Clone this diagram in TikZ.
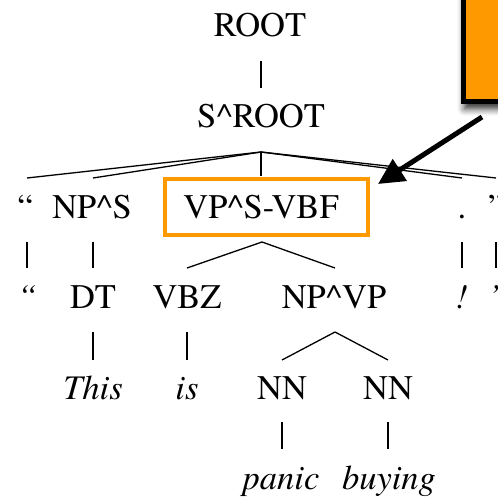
\documentclass[tikz,border=0pt]{standalone}
\usepackage{fontspec}
\newfontfamily\treefont{texgyretermes}[Extension=.otf, UprightFont=*-regular, ItalicFont=*-italic]
\usetikzlibrary{calc,arrows.meta,shadows.blur}
\definecolor{hlorange}{RGB}{255,153,0}
\begin{document}
\begin{tikzpicture}[x=1bp,y=-1bp,
  lab/.style={inner sep=0pt, anchor=base, font=\treefont\fontsize{34.5bp}{40bp}\selectfont},
  word/.style={inner sep=0pt, anchor=base, font=\treefont\fontsize{34.5bp}{40bp}\selectfont\itshape},
  edge/.style={line width=1.3bp, black},
  hlbox/.style={draw=hlorange, line width=4bp, inner sep=0pt},
  callbox/.style={fill=hlorange, draw=black, line width=5bp, inner sep=0pt,
    blur shadow={shadow xshift=1bp, shadow yshift=-7bp, shadow blur radius=7bp, shadow opacity=85}},
  pointer/.style={-{Triangle[length=26bp,width=25bp]}, line width=5bp, black}]
\useasboundingbox (0,0) rectangle (498,499);

% callout box in the corner
\node[callbox, minimum width=66.5bp, minimum height=121.5bp] (callout) at (496.75,40.75) {};

% labels, level by level
\node[lab] (root) at (260,37) {ROOT};
\node[lab] (sroot) at (261,128) {S\textasciicircum ROOT};

\node[lab] (oq1) at (25,218) {“};
\node[lab] (np) at (92,218) {NP\textasciicircum S};
\node[lab] (vp) at (261,218) {VP\textasciicircum S-VBF};
\node[lab] (dot) at (462,218) {.};
\node[lab] (cq) at (496,218) {”};

\node[word] (oq2) at (27,308) {“};
\node[lab] (dt) at (93,308) {DT};
\node[lab] (vbz) at (187,308) {VBZ};
\node[lab] (npvp) at (334,308) {NP\textasciicircum VP};
\node[word] (excl) at (462,308) {!};
\node[word] (sq) at (494,308) {’};

\node[word] (this) at (93,399) {This};
\node[word] (is) at (187,399) {is};
\node[lab] (nn1) at (282,399) {NN};
\node[lab] (nn2) at (388,399) {NN};

\node[word] (panic) at (281,489) {panic};
\node[word] (buying) at (389,489) {buying};

% highlight around the verb phrase
\node[hlbox, minimum width=203bp, minimum height=56bp] (vpbox) at (266.5,207) {};

% tree edges
\draw[edge] ($(sroot.base |- root.base)+(0,24)$) -- ($(sroot.base)+(0,-40)$);

\coordinate (sapex) at ($(sroot.base)+(0,24)$);
\draw[edge] (sapex) -- ($(oq1.base)+(2,-40)$);
\draw[edge] (sapex) -- ($(np.base)+(1,-40)$);
\draw[edge] (sapex) -- ($(sapex |- vpbox.north)+(0,-1)$);
\draw[edge] (sapex) -- ($(dot.base)+(0,-40)$);
\draw[edge] (sapex) -- ($(cq.base)+(0,-40)$);

\draw[edge] ($(oq1.base)+(2,24)$) -- ($(oq1.base)+(2,50)$);
\draw[edge] ($(dt.base |- np.base)+(0,24)$) -- ($(dt.base)+(0,-40)$);
\draw[edge] ($(dot.base)+(0,24)$) -- ($(dot.base)+(0,50)$);
\draw[edge] ($(cq.base)+(0,24)$) -- ($(cq.base)+(0,50)$);

\coordinate (vapex) at ($(vp.base)+(1,24)$);
\draw[edge] (vapex) -- ($(vbz.base)+(0,-40)$);
\draw[edge] (vapex) -- ($(npvp.base)+(1,-40)$);

\draw[edge] ($(dt.base)+(0,24)$) -- ($(this.base)+(0,-39)$);
\draw[edge] ($(vbz.base)+(0,24)$) -- ($(is.base)+(0,-39)$);
\coordinate (napex) at ($(npvp.base)+(1,24)$);
\draw[edge] (napex) -- ($(nn1.base)+(0,-39)$);
\draw[edge] (napex) -- ($(nn2.base)+(0,-39)$);

\draw[edge] ($(nn1.base)+(0,23)$) -- ($(nn1.base)+(0,50)$);
\draw[edge] ($(nn2.base)+(0,23)$) -- ($(nn2.base)+(0,50)$);

% pointer from the callout to the highlighted phrase
\coordinate (ptail) at (482,117);
\coordinate (ptip) at (378,184);
\draw[pointer] (ptail) -- (ptip);
\end{tikzpicture}
\end{document}
